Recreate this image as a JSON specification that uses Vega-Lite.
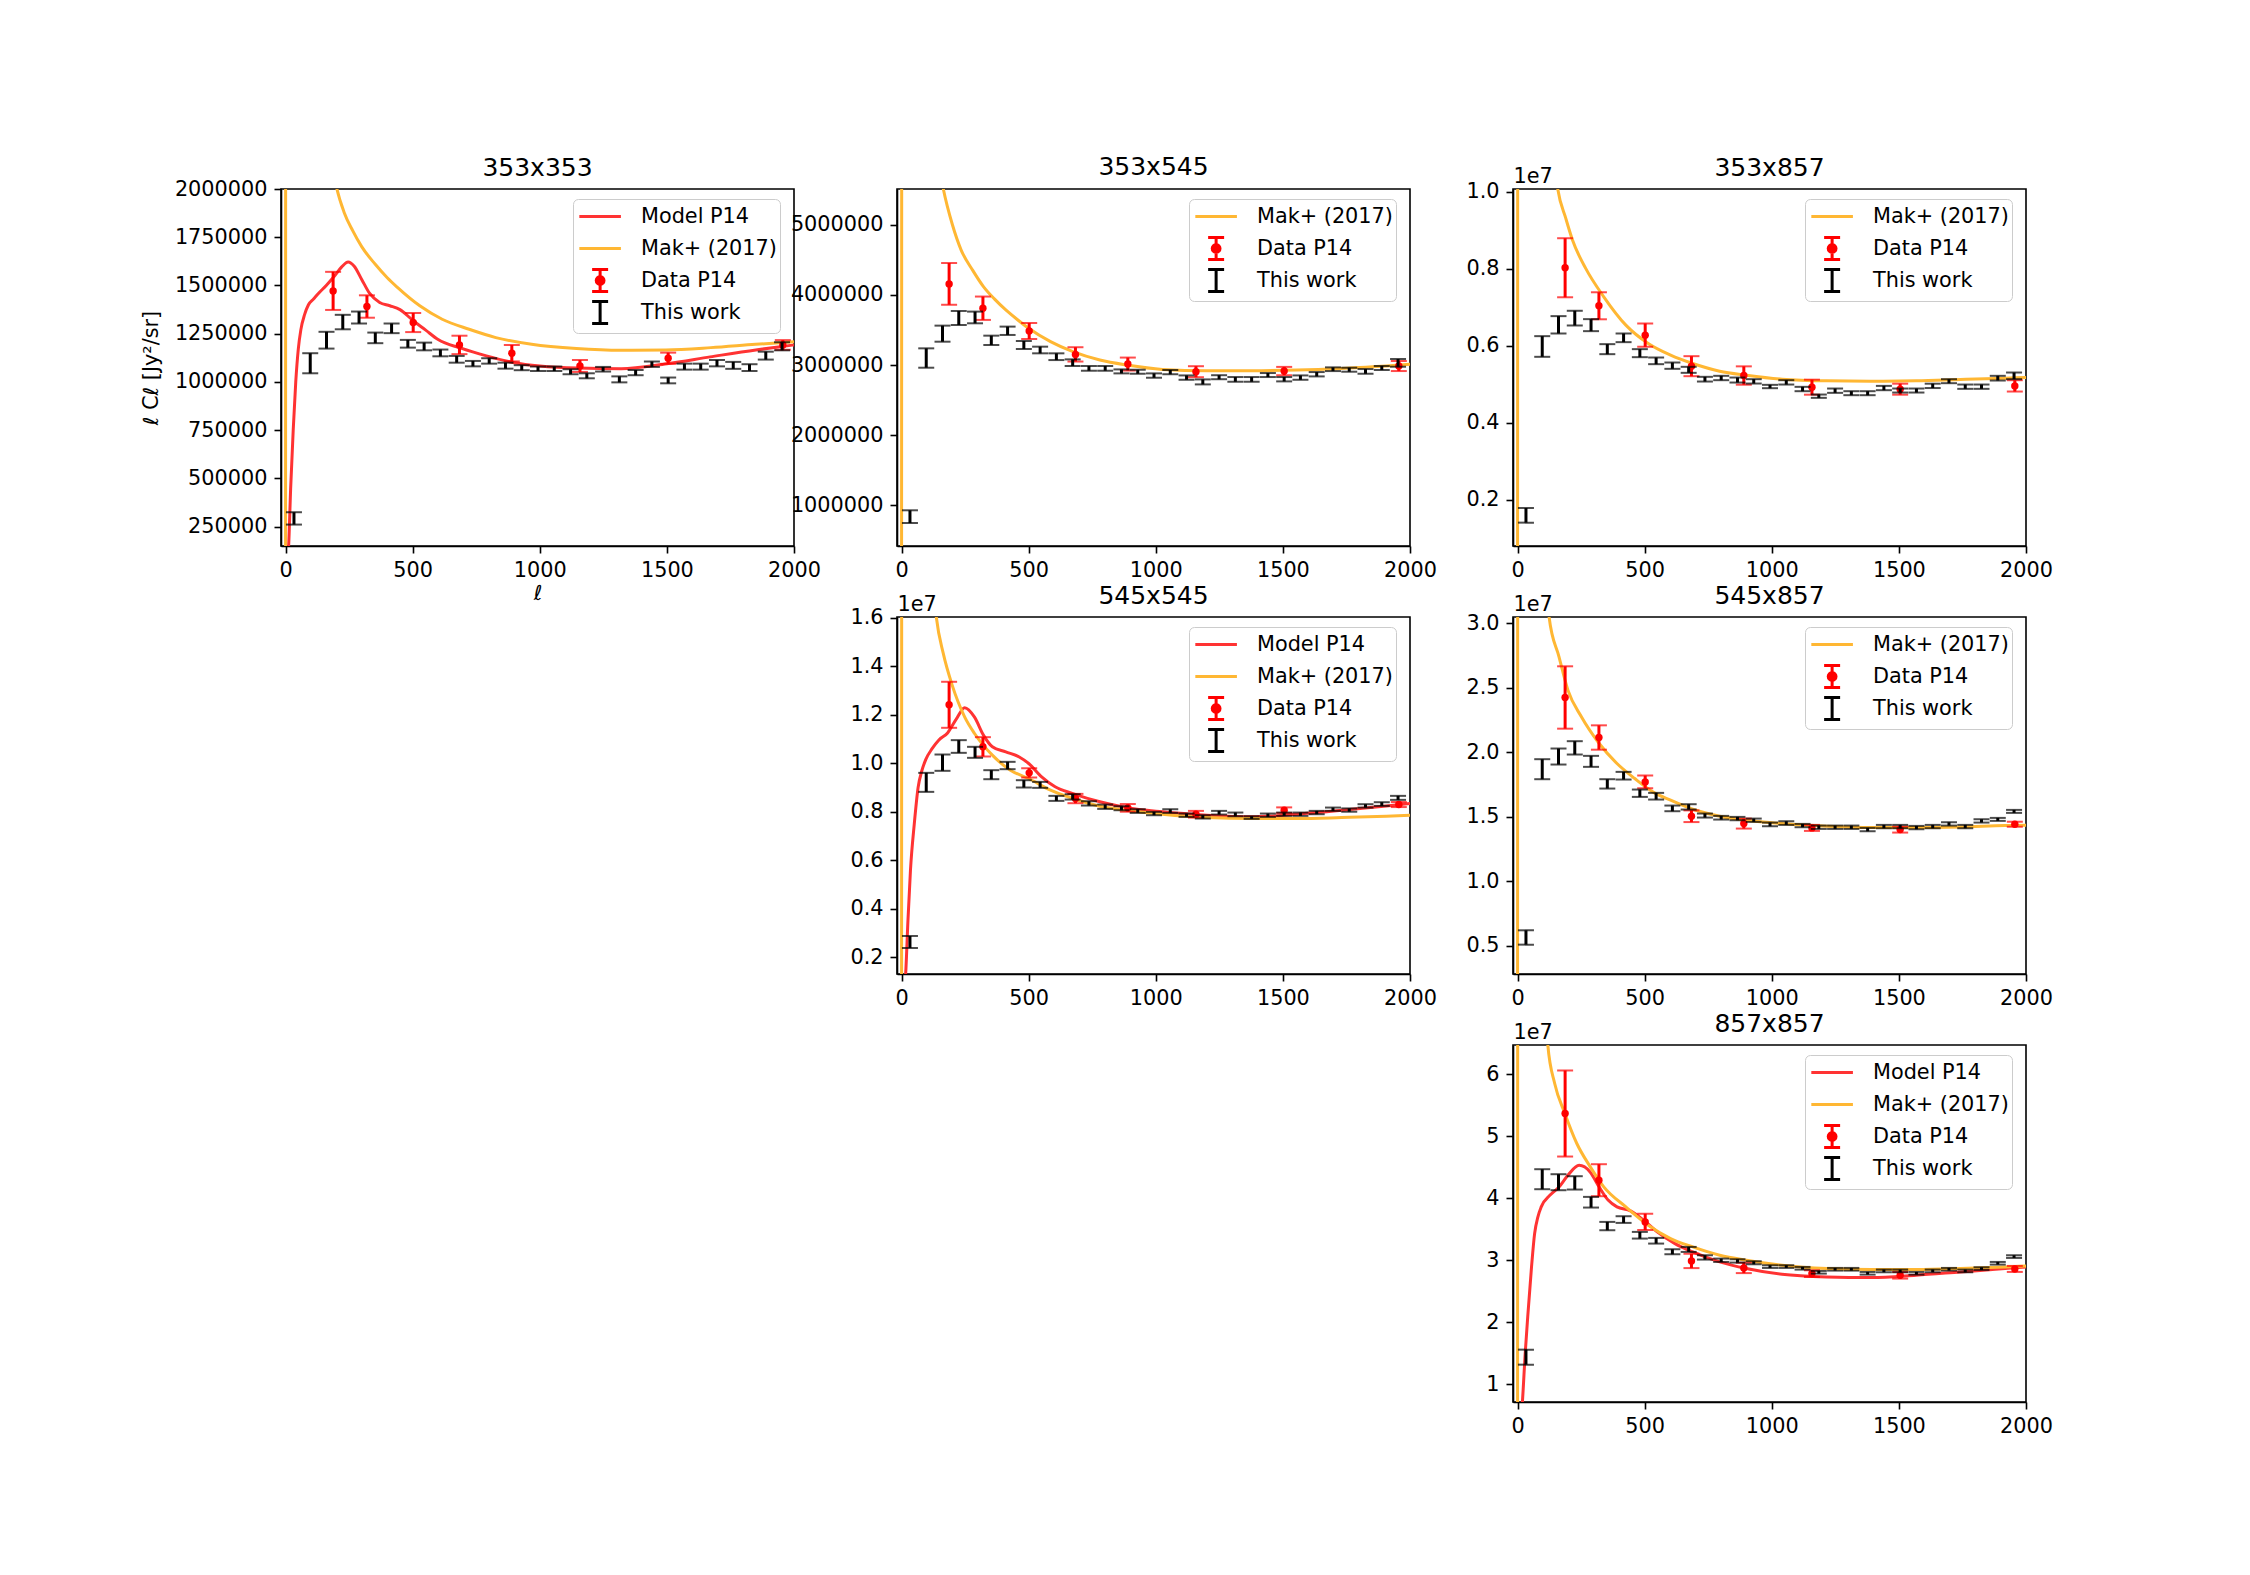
{
"$schema": "https://vega.github.io/schema/vega-lite/v6.json",
"autosize": {"type": "none"},
"padding": {"left": 281, "top": 189, "right": 1969, "bottom": 1386},
"background": "white",
"config": {
 "font": "DejaVu Sans",
 "view": {"stroke": "black", "strokeWidth": 1.6},
 "axis": {"domainColor": "black", "domainWidth": 1.6, "tickColor": "black", "tickWidth": 1.6, "tickSize": 7, "labelFont": "DejaVu Sans", "labelFontSize": 20.8, "labelColor": "black", "labelPadding": 7, "grid": false, "labelOverlap": false, "labelFlush": false, "labelBound": false, "titleFont": "DejaVu Sans", "titleFontSize": 20.8, "titleFontWeight": "normal", "titleColor": "black"},
 "title": {"font": "DejaVu Sans", "fontSize": 25, "fontWeight": "normal", "color": "black", "offset": 13, "baseline": "alphabetic", "frame": "group", "anchor": "middle"},
 "legend": {"orient": "none", "legendX": 292, "legendY": 10, "padding": 3, "strokeColor": "#cccccc", "fillColor": "rgba(255,255,255,0.8)", "cornerRadius": 5, "labelFont": "DejaVu Sans", "labelFontSize": 20.8, "labelColor": "black", "symbolSize": 676, "labelOffset": 36, "rowPadding": -5, "labelLimit": 300}
},
"datasets": {
 "curves": [
  {"panel":"353x353","series":"Model P14","ell":0,"v":0},{"panel":"353x353","series":"Model P14","ell":12,"v":150000},{"panel":"353x353","series":"Model P14","ell":20,"v":450000},{"panel":"353x353","series":"Model P14","ell":30,"v":750000},{"panel":"353x353","series":"Model P14","ell":40,"v":1000000},{"panel":"353x353","series":"Model P14","ell":50,"v":1170000},{"panel":"353x353","series":"Model P14","ell":60,"v":1270000},{"panel":"353x353","series":"Model P14","ell":75,"v":1350000},{"panel":"353x353","series":"Model P14","ell":90,"v":1400000},{"panel":"353x353","series":"Model P14","ell":110,"v":1430000},{"panel":"353x353","series":"Model P14","ell":130,"v":1460000},{"panel":"353x353","series":"Model P14","ell":160,"v":1500000},{"panel":"353x353","series":"Model P14","ell":190,"v":1545000},{"panel":"353x353","series":"Model P14","ell":220,"v":1595000},{"panel":"353x353","series":"Model P14","ell":246,"v":1622000},{"panel":"353x353","series":"Model P14","ell":270,"v":1600000},{"panel":"353x353","series":"Model P14","ell":300,"v":1530000},{"panel":"353x353","series":"Model P14","ell":330,"v":1460000},{"panel":"353x353","series":"Model P14","ell":370,"v":1412000},{"panel":"353x353","series":"Model P14","ell":410,"v":1395000},{"panel":"353x353","series":"Model P14","ell":450,"v":1375000},{"panel":"353x353","series":"Model P14","ell":500,"v":1320000},{"panel":"353x353","series":"Model P14","ell":550,"v":1270000},{"panel":"353x353","series":"Model P14","ell":600,"v":1220000},{"panel":"353x353","series":"Model P14","ell":690,"v":1175000},{"panel":"353x353","series":"Model P14","ell":790,"v":1135000},{"panel":"353x353","series":"Model P14","ell":900,"v":1100000},{"panel":"353x353","series":"Model P14","ell":1000,"v":1083000},{"panel":"353x353","series":"Model P14","ell":1150,"v":1072000},{"panel":"353x353","series":"Model P14","ell":1320,"v":1069000},{"panel":"353x353","series":"Model P14","ell":1500,"v":1095000},{"panel":"353x353","series":"Model P14","ell":1670,"v":1130000},{"panel":"353x353","series":"Model P14","ell":1850,"v":1166000},{"panel":"353x353","series":"Model P14","ell":2000,"v":1192000},
  {"panel":"353x353","series":"Mak+ (2017)","ell":0,"v":0},{"panel":"353x353","series":"Mak+ (2017)","ell":3,"v":30000000},{"panel":"353x353","series":"Mak+ (2017)","ell":50,"v":6000000},{"panel":"353x353","series":"Mak+ (2017)","ell":100,"v":3200000},{"panel":"353x353","series":"Mak+ (2017)","ell":150,"v":2450000},{"panel":"353x353","series":"Mak+ (2017)","ell":180,"v":2150000},{"panel":"353x353","series":"Mak+ (2017)","ell":202,"v":2000000},{"panel":"353x353","series":"Mak+ (2017)","ell":230,"v":1880000},{"panel":"353x353","series":"Mak+ (2017)","ell":264,"v":1784000},{"panel":"353x353","series":"Mak+ (2017)","ell":300,"v":1700000},{"panel":"353x353","series":"Mak+ (2017)","ell":352,"v":1611000},{"panel":"353x353","series":"Mak+ (2017)","ell":400,"v":1540000},{"panel":"353x353","series":"Mak+ (2017)","ell":440,"v":1490000},{"panel":"353x353","series":"Mak+ (2017)","ell":528,"v":1394500},{"panel":"353x353","series":"Mak+ (2017)","ell":616,"v":1325000},{"panel":"353x353","series":"Mak+ (2017)","ell":722,"v":1273000},{"panel":"353x353","series":"Mak+ (2017)","ell":827,"v":1230000},{"panel":"353x353","series":"Mak+ (2017)","ell":968,"v":1195000},{"panel":"353x353","series":"Mak+ (2017)","ell":1144,"v":1173000},{"panel":"353x353","series":"Mak+ (2017)","ell":1320,"v":1164000},{"panel":"353x353","series":"Mak+ (2017)","ell":1496,"v":1166000},{"panel":"353x353","series":"Mak+ (2017)","ell":1673,"v":1178000},{"panel":"353x353","series":"Mak+ (2017)","ell":1849,"v":1195000},{"panel":"353x353","series":"Mak+ (2017)","ell":2000,"v":1208000},
  {"panel":"353x545","series":"Mak+ (2017)","ell":0,"v":0},{"panel":"353x545","series":"Mak+ (2017)","ell":3,"v":40000000},{"panel":"353x545","series":"Mak+ (2017)","ell":50,"v":12000000},{"panel":"353x545","series":"Mak+ (2017)","ell":100,"v":7500000},{"panel":"353x545","series":"Mak+ (2017)","ell":140,"v":6000000},{"panel":"353x545","series":"Mak+ (2017)","ell":164,"v":5514000},{"panel":"353x545","series":"Mak+ (2017)","ell":200,"v":5000000},{"panel":"353x545","series":"Mak+ (2017)","ell":234,"v":4643000},{"panel":"353x545","series":"Mak+ (2017)","ell":280,"v":4350000},{"panel":"353x545","series":"Mak+ (2017)","ell":322,"v":4119000},{"panel":"353x545","series":"Mak+ (2017)","ell":366,"v":3940000},{"panel":"353x545","series":"Mak+ (2017)","ell":410,"v":3786000},{"panel":"353x545","series":"Mak+ (2017)","ell":455,"v":3650000},{"panel":"353x545","series":"Mak+ (2017)","ell":500,"v":3524000},{"panel":"353x545","series":"Mak+ (2017)","ell":586,"v":3333000},{"panel":"353x545","series":"Mak+ (2017)","ell":674,"v":3190000},{"panel":"353x545","series":"Mak+ (2017)","ell":780,"v":3071000},{"panel":"353x545","series":"Mak+ (2017)","ell":886,"v":3000000},{"panel":"353x545","series":"Mak+ (2017)","ell":1026,"v":2938000},{"panel":"353x545","series":"Mak+ (2017)","ell":1202,"v":2919000},{"panel":"353x545","series":"Mak+ (2017)","ell":1379,"v":2919000},{"panel":"353x545","series":"Mak+ (2017)","ell":1555,"v":2929000},{"panel":"353x545","series":"Mak+ (2017)","ell":1731,"v":2952000},{"panel":"353x545","series":"Mak+ (2017)","ell":1907,"v":2986000},{"panel":"353x545","series":"Mak+ (2017)","ell":2000,"v":3010000},
  {"panel":"353x857","series":"Mak+ (2017)","ell":0,"v":0},{"panel":"353x857","series":"Mak+ (2017)","ell":3,"v":80000000},{"panel":"353x857","series":"Mak+ (2017)","ell":50,"v":25000000},{"panel":"353x857","series":"Mak+ (2017)","ell":100,"v":14000000},{"panel":"353x857","series":"Mak+ (2017)","ell":140,"v":11000000},{"panel":"353x857","series":"Mak+ (2017)","ell":158,"v":10070000},{"panel":"353x857","series":"Mak+ (2017)","ell":190,"v":9300000},{"panel":"353x857","series":"Mak+ (2017)","ell":216,"v":8743000},{"panel":"353x857","series":"Mak+ (2017)","ell":268,"v":8007000},{"panel":"353x857","series":"Mak+ (2017)","ell":339,"v":7270000},{"panel":"353x857","series":"Mak+ (2017)","ell":426,"v":6533000},{"panel":"353x857","series":"Mak+ (2017)","ell":514,"v":6056000},{"panel":"353x857","series":"Mak+ (2017)","ell":602,"v":5753000},{"panel":"353x857","series":"Mak+ (2017)","ell":689,"v":5536000},{"panel":"353x857","series":"Mak+ (2017)","ell":795,"v":5337000},{"panel":"353x857","series":"Mak+ (2017)","ell":900,"v":5233000},{"panel":"353x857","series":"Mak+ (2017)","ell":1040,"v":5129000},{"panel":"353x857","series":"Mak+ (2017)","ell":1216,"v":5086000},{"panel":"353x857","series":"Mak+ (2017)","ell":1391,"v":5077000},{"panel":"353x857","series":"Mak+ (2017)","ell":1567,"v":5086000},{"panel":"353x857","series":"Mak+ (2017)","ell":1742,"v":5120000},{"panel":"353x857","series":"Mak+ (2017)","ell":1918,"v":5155000},{"panel":"353x857","series":"Mak+ (2017)","ell":2000,"v":5172000},
  {"panel":"545x545","series":"Model P14","ell":0,"v":0},{"panel":"545x545","series":"Model P14","ell":16,"v":1310000},{"panel":"545x545","series":"Model P14","ell":25,"v":3500000},{"panel":"545x545","series":"Model P14","ell":35,"v":5600000},{"panel":"545x545","series":"Model P14","ell":50,"v":7500000},{"panel":"545x545","series":"Model P14","ell":65,"v":9000000},{"panel":"545x545","series":"Model P14","ell":80,"v":9700000},{"panel":"545x545","series":"Model P14","ell":95,"v":10150000},{"panel":"545x545","series":"Model P14","ell":120,"v":10600000},{"panel":"545x545","series":"Model P14","ell":146,"v":10950000},{"panel":"545x545","series":"Model P14","ell":181,"v":11250000},{"panel":"545x545","series":"Model P14","ell":217,"v":11850000},{"panel":"545x545","series":"Model P14","ell":248,"v":12290000},{"panel":"545x545","series":"Model P14","ell":287,"v":11900000},{"panel":"545x545","series":"Model P14","ell":322,"v":11160000},{"panel":"545x545","series":"Model P14","ell":357,"v":10680000},{"panel":"545x545","series":"Model P14","ell":410,"v":10470000},{"panel":"545x545","series":"Model P14","ell":463,"v":10260000},{"panel":"545x545","series":"Model P14","ell":500,"v":9990000},{"panel":"545x545","series":"Model P14","ell":551,"v":9440000},{"panel":"545x545","series":"Model P14","ell":604,"v":9030000},{"panel":"545x545","series":"Model P14","ell":674,"v":8750000},{"panel":"545x545","series":"Model P14","ell":780,"v":8410000},{"panel":"545x545","series":"Model P14","ell":886,"v":8170000},{"panel":"545x545","series":"Model P14","ell":1026,"v":8000000},{"panel":"545x545","series":"Model P14","ell":1202,"v":7860000},{"panel":"545x545","series":"Model P14","ell":1379,"v":7790000},{"panel":"545x545","series":"Model P14","ell":1555,"v":7900000},{"panel":"545x545","series":"Model P14","ell":1731,"v":8060000},{"panel":"545x545","series":"Model P14","ell":1907,"v":8240000},{"panel":"545x545","series":"Model P14","ell":2000,"v":8340000},
  {"panel":"545x545","series":"Mak+ (2017)","ell":0,"v":0},{"panel":"545x545","series":"Mak+ (2017)","ell":3,"v":150000000},{"panel":"545x545","series":"Mak+ (2017)","ell":50,"v":40000000},{"panel":"545x545","series":"Mak+ (2017)","ell":100,"v":21000000},{"panel":"545x545","series":"Mak+ (2017)","ell":137,"v":16000000},{"panel":"545x545","series":"Mak+ (2017)","ell":164,"v":14528000},{"panel":"545x545","series":"Mak+ (2017)","ell":199,"v":13222000},{"panel":"545x545","series":"Mak+ (2017)","ell":248,"v":11915000},{"panel":"545x545","series":"Mak+ (2017)","ell":287,"v":11227000},{"panel":"545x545","series":"Mak+ (2017)","ell":357,"v":10333000},{"panel":"545x545","series":"Mak+ (2017)","ell":428,"v":9714000},{"panel":"545x545","series":"Mak+ (2017)","ell":500,"v":9370000},{"panel":"545x545","series":"Mak+ (2017)","ell":586,"v":8889000},{"panel":"545x545","series":"Mak+ (2017)","ell":674,"v":8545000},{"panel":"545x545","series":"Mak+ (2017)","ell":780,"v":8228000},{"panel":"545x545","series":"Mak+ (2017)","ell":886,"v":8063000},{"panel":"545x545","series":"Mak+ (2017)","ell":1026,"v":7898000},{"panel":"545x545","series":"Mak+ (2017)","ell":1202,"v":7761000},{"panel":"545x545","series":"Mak+ (2017)","ell":1379,"v":7720000},{"panel":"545x545","series":"Mak+ (2017)","ell":1555,"v":7720000},{"panel":"545x545","series":"Mak+ (2017)","ell":1731,"v":7761000},{"panel":"545x545","series":"Mak+ (2017)","ell":1907,"v":7816000},{"panel":"545x545","series":"Mak+ (2017)","ell":2000,"v":7857000},
  {"panel":"545x857","series":"Mak+ (2017)","ell":0,"v":0},{"panel":"545x857","series":"Mak+ (2017)","ell":3,"v":300000000},{"panel":"545x857","series":"Mak+ (2017)","ell":50,"v":80000000},{"panel":"545x857","series":"Mak+ (2017)","ell":100,"v":40000000},{"panel":"545x857","series":"Mak+ (2017)","ell":124,"v":30500000},{"panel":"545x857","series":"Mak+ (2017)","ell":163,"v":27412000},{"panel":"545x857","series":"Mak+ (2017)","ell":198,"v":24824000},{"panel":"545x857","series":"Mak+ (2017)","ell":251,"v":22754000},{"panel":"545x857","series":"Mak+ (2017)","ell":321,"v":20683000},{"panel":"545x857","series":"Mak+ (2017)","ell":391,"v":19130000},{"panel":"545x857","series":"Mak+ (2017)","ell":461,"v":17966000},{"panel":"545x857","series":"Mak+ (2017)","ell":532,"v":16931000},{"panel":"545x857","series":"Mak+ (2017)","ell":602,"v":16284000},{"panel":"545x857","series":"Mak+ (2017)","ell":689,"v":15585000},{"panel":"545x857","series":"Mak+ (2017)","ell":795,"v":15042000},{"panel":"545x857","series":"Mak+ (2017)","ell":900,"v":14731000},{"panel":"545x857","series":"Mak+ (2017)","ell":1040,"v":14472000},{"panel":"545x857","series":"Mak+ (2017)","ell":1216,"v":14265000},{"panel":"545x857","series":"Mak+ (2017)","ell":1391,"v":14162000},{"panel":"545x857","series":"Mak+ (2017)","ell":1567,"v":14162000},{"panel":"545x857","series":"Mak+ (2017)","ell":1742,"v":14213000},{"panel":"545x857","series":"Mak+ (2017)","ell":1918,"v":14317000},{"panel":"545x857","series":"Mak+ (2017)","ell":2000,"v":14343000},
  {"panel":"857x857","series":"Model P14","ell":0,"v":0},{"panel":"857x857","series":"Model P14","ell":19,"v":7150000},{"panel":"857x857","series":"Model P14","ell":30,"v":15000000},{"panel":"857x857","series":"Model P14","ell":40,"v":20900000},{"panel":"857x857","series":"Model P14","ell":55,"v":29000000},{"panel":"857x857","series":"Model P14","ell":67,"v":34300000},{"panel":"857x857","series":"Model P14","ell":80,"v":37000000},{"panel":"857x857","series":"Model P14","ell":93,"v":38600000},{"panel":"857x857","series":"Model P14","ell":128,"v":40500000},{"panel":"857x857","series":"Model P14","ell":163,"v":41800000},{"panel":"857x857","series":"Model P14","ell":198,"v":43700000},{"panel":"857x857","series":"Model P14","ell":242,"v":45300000},{"panel":"857x857","series":"Model P14","ell":286,"v":44200000},{"panel":"857x857","series":"Model P14","ell":321,"v":41800000},{"panel":"857x857","series":"Model P14","ell":356,"v":39700000},{"panel":"857x857","series":"Model P14","ell":391,"v":38600000},{"panel":"857x857","series":"Model P14","ell":444,"v":37960000},{"panel":"857x857","series":"Model P14","ell":496,"v":36450000},{"panel":"857x857","series":"Model P14","ell":549,"v":34570000},{"panel":"857x857","series":"Model P14","ell":619,"v":32690000},{"panel":"857x857","series":"Model P14","ell":689,"v":31340000},{"panel":"857x857","series":"Model P14","ell":795,"v":29730000},{"panel":"857x857","series":"Model P14","ell":900,"v":28660000},{"panel":"857x857","series":"Model P14","ell":1040,"v":27740000},{"panel":"857x857","series":"Model P14","ell":1216,"v":27310000},{"panel":"857x857","series":"Model P14","ell":1391,"v":27200000},{"panel":"857x857","series":"Model P14","ell":1567,"v":27580000},{"panel":"857x857","series":"Model P14","ell":1742,"v":28120000},{"panel":"857x857","series":"Model P14","ell":1918,"v":28660000},{"panel":"857x857","series":"Model P14","ell":2000,"v":28900000},
  {"panel":"857x857","series":"Mak+ (2017)","ell":0,"v":0},{"panel":"857x857","series":"Mak+ (2017)","ell":3,"v":600000000},{"panel":"857x857","series":"Mak+ (2017)","ell":50,"v":150000000},{"panel":"857x857","series":"Mak+ (2017)","ell":100,"v":80000000},{"panel":"857x857","series":"Mak+ (2017)","ell":119,"v":64700000},{"panel":"857x857","series":"Mak+ (2017)","ell":146,"v":58500000},{"panel":"857x857","series":"Mak+ (2017)","ell":186,"v":53660000},{"panel":"857x857","series":"Mak+ (2017)","ell":233,"v":48820000},{"panel":"857x857","series":"Mak+ (2017)","ell":286,"v":45050000},{"panel":"857x857","series":"Mak+ (2017)","ell":339,"v":41830000},{"panel":"857x857","series":"Mak+ (2017)","ell":426,"v":38600000},{"panel":"857x857","series":"Mak+ (2017)","ell":514,"v":35650000},{"panel":"857x857","series":"Mak+ (2017)","ell":602,"v":33500000},{"panel":"857x857","series":"Mak+ (2017)","ell":689,"v":32150000},{"panel":"857x857","series":"Mak+ (2017)","ell":795,"v":30810000},{"panel":"857x857","series":"Mak+ (2017)","ell":900,"v":30000000},{"panel":"857x857","series":"Mak+ (2017)","ell":1040,"v":29190000},{"panel":"857x857","series":"Mak+ (2017)","ell":1216,"v":28660000},{"panel":"857x857","series":"Mak+ (2017)","ell":1391,"v":28500000},{"panel":"857x857","series":"Mak+ (2017)","ell":1567,"v":28500000},{"panel":"857x857","series":"Mak+ (2017)","ell":1742,"v":28660000},{"panel":"857x857","series":"Mak+ (2017)","ell":1918,"v":28930000},{"panel":"857x857","series":"Mak+ (2017)","ell":2000,"v":29090000}
 ],
 "p14": [
  {"panel":"353x353","series":"Data P14","ell":187,"v":1472000,"err":98700},{"panel":"353x353","series":"Data P14","ell":320,"v":1391000,"err":58000},{"panel":"353x353","series":"Data P14","ell":502,"v":1308000,"err":49500},{"panel":"353x353","series":"Data P14","ell":684,"v":1192000,"err":47700},{"panel":"353x353","series":"Data P14","ell":890,"v":1149000,"err":42500},{"panel":"353x353","series":"Data P14","ell":1158,"v":1083000,"err":31000},{"panel":"353x353","series":"Data P14","ell":1505,"v":1123000,"err":29000},{"panel":"353x353","series":"Data P14","ell":1956,"v":1192000,"err":25000},
  {"panel":"353x545","series":"Data P14","ell":187,"v":4157000,"err":297500},{"panel":"353x545","series":"Data P14","ell":320,"v":3810000,"err":166500},{"panel":"353x545","series":"Data P14","ell":502,"v":3486000,"err":114000},{"panel":"353x545","series":"Data P14","ell":684,"v":3152000,"err":102000},{"panel":"353x545","series":"Data P14","ell":890,"v":3014000,"err":92500},{"panel":"353x545","series":"Data P14","ell":1158,"v":2905000,"err":78500},{"panel":"353x545","series":"Data P14","ell":1505,"v":2914000,"err":59500},{"panel":"353x545","series":"Data P14","ell":1956,"v":2986000,"err":71500},
  {"panel":"353x857","series":"Data P14","ell":187,"v":8024000,"err":767000},{"panel":"353x857","series":"Data P14","ell":320,"v":7036000,"err":351000},{"panel":"353x857","series":"Data P14","ell":502,"v":6273000,"err":303500},{"panel":"353x857","series":"Data P14","ell":684,"v":5467000,"err":260000},{"panel":"353x857","series":"Data P14","ell":890,"v":5224000,"err":238500},{"panel":"353x857","series":"Data P14","ell":1158,"v":4921000,"err":195000},{"panel":"353x857","series":"Data P14","ell":1505,"v":4869000,"err":143000},{"panel":"353x857","series":"Data P14","ell":1956,"v":4955000,"err":147000},
  {"panel":"545x545","series":"Data P14","ell":187,"v":12410000,"err":949000},{"panel":"545x545","series":"Data P14","ell":320,"v":10677000,"err":398500},{"panel":"545x545","series":"Data P14","ell":502,"v":9604000,"err":192500},{"panel":"545x545","series":"Data P14","ell":684,"v":8545000,"err":192500},{"panel":"545x545","series":"Data P14","ell":890,"v":8160000,"err":158000},{"panel":"545x545","series":"Data P14","ell":1158,"v":7898000,"err":137500},{"panel":"545x545","series":"Data P14","ell":1505,"v":8063000,"err":117000},{"panel":"545x545","series":"Data P14","ell":1956,"v":8297000,"err":103500},
  {"panel":"545x857","series":"Data P14","ell":187,"v":24255000,"err":2419500},{"panel":"545x857","series":"Data P14","ell":320,"v":21149000,"err":945000},{"panel":"545x857","series":"Data P14","ell":502,"v":17707000,"err":492000},{"panel":"545x857","series":"Data P14","ell":684,"v":15041000,"err":453000},{"panel":"545x857","series":"Data P14","ell":890,"v":14472000,"err":388000},{"panel":"545x857","series":"Data P14","ell":1158,"v":14136000,"err":233000},{"panel":"545x857","series":"Data P14","ell":1505,"v":14006000,"err":233000},{"panel":"545x857","series":"Data P14","ell":1956,"v":14420000,"err":194000},
  {"panel":"857x857","series":"Data P14","ell":187,"v":53656000,"err":6935500},{"panel":"857x857","series":"Data P14","ell":320,"v":42903000,"err":2580500},{"panel":"857x857","series":"Data P14","ell":502,"v":36183000,"err":1317000},{"panel":"857x857","series":"Data P14","ell":684,"v":29892000,"err":1156000},{"panel":"857x857","series":"Data P14","ell":890,"v":28763000,"err":833500},{"panel":"857x857","series":"Data P14","ell":1158,"v":27849000,"err":537500},{"panel":"857x857","series":"Data P14","ell":1505,"v":27581000,"err":537500},{"panel":"857x857","series":"Data P14","ell":1956,"v":28602000,"err":484000}
 ],
 "work": [
  {"panel":"353x353","series":"This work","ell":33,"v":293000,"err":32000},{"panel":"353x353","series":"This work","ell":97,"v":1097000,"err":52000},{"panel":"353x353","series":"This work","ell":161,"v":1216500,"err":43500},{"panel":"353x353","series":"This work","ell":225,"v":1310500,"err":37500},{"panel":"353x353","series":"This work","ell":289,"v":1334000,"err":31000},{"panel":"353x353","series":"This work","ell":353,"v":1228500,"err":27500},{"panel":"353x353","series":"This work","ell":417,"v":1278000,"err":25000},{"panel":"353x353","series":"This work","ell":481,"v":1198000,"err":20000},{"panel":"353x353","series":"This work","ell":545,"v":1184000,"err":20000},{"panel":"353x353","series":"This work","ell":609,"v":1150500,"err":17500},{"panel":"353x353","series":"This work","ell":673,"v":1117500,"err":17500},{"panel":"353x353","series":"This work","ell":737,"v":1095000,"err":14000},{"panel":"353x353","series":"This work","ell":801,"v":1109000,"err":14000},{"panel":"353x353","series":"This work","ell":865,"v":1084500,"err":15500},{"panel":"353x353","series":"This work","ell":929,"v":1074000,"err":13000},{"panel":"353x353","series":"This work","ell":993,"v":1068500,"err":11500},{"panel":"353x353","series":"This work","ell":1057,"v":1068500,"err":11500},{"panel":"353x353","series":"This work","ell":1121,"v":1053000,"err":13000},{"panel":"353x353","series":"This work","ell":1185,"v":1032000,"err":13000},{"panel":"353x353","series":"This work","ell":1249,"v":1066000,"err":12000},{"panel":"353x353","series":"This work","ell":1313,"v":1013500,"err":15500},{"panel":"353x353","series":"This work","ell":1377,"v":1048500,"err":13500},{"panel":"353x353","series":"This work","ell":1441,"v":1092000,"err":14000},{"panel":"353x353","series":"This work","ell":1505,"v":1008000,"err":15000},{"panel":"353x353","series":"This work","ell":1569,"v":1079500,"err":15500},{"panel":"353x353","series":"This work","ell":1633,"v":1079500,"err":15500},{"panel":"353x353","series":"This work","ell":1697,"v":1097500,"err":16500},{"panel":"353x353","series":"This work","ell":1761,"v":1086000,"err":18000},{"panel":"353x353","series":"This work","ell":1825,"v":1074500,"err":17500},{"panel":"353x353","series":"This work","ell":1889,"v":1136500,"err":20500},{"panel":"353x353","series":"This work","ell":1953,"v":1185000,"err":21000},
  {"panel":"353x545","series":"This work","ell":33,"v":838500,"err":90500},{"panel":"353x545","series":"This work","ell":97,"v":3100000,"err":138000},{"panel":"353x545","series":"This work","ell":161,"v":3447500,"err":114500},{"panel":"353x545","series":"This work","ell":225,"v":3671000,"err":100000},{"panel":"353x545","series":"This work","ell":289,"v":3678500,"err":83500},{"panel":"353x545","series":"This work","ell":353,"v":3352500,"err":66500},{"panel":"353x545","series":"This work","ell":417,"v":3488500,"err":59500},{"panel":"353x545","series":"This work","ell":481,"v":3286000,"err":57000},{"panel":"353x545","series":"This work","ell":545,"v":3214500,"err":47500},{"panel":"353x545","series":"This work","ell":609,"v":3119000,"err":48000},{"panel":"353x545","series":"This work","ell":673,"v":3033500,"err":47500},{"panel":"353x545","series":"This work","ell":737,"v":2952500,"err":33500},{"panel":"353x545","series":"This work","ell":801,"v":2952500,"err":33500},{"panel":"353x545","series":"This work","ell":865,"v":2909500,"err":28500},{"panel":"353x545","series":"This work","ell":929,"v":2904500,"err":28500},{"panel":"353x545","series":"This work","ell":993,"v":2850000,"err":31000},{"panel":"353x545","series":"This work","ell":1057,"v":2899000,"err":30000},{"panel":"353x545","series":"This work","ell":1121,"v":2821000,"err":31000},{"panel":"353x545","series":"This work","ell":1185,"v":2759500,"err":35500},{"panel":"353x545","series":"This work","ell":1249,"v":2826500,"err":28500},{"panel":"353x545","series":"This work","ell":1313,"v":2795500,"err":33500},{"panel":"353x545","series":"This work","ell":1377,"v":2795500,"err":33500},{"panel":"353x545","series":"This work","ell":1441,"v":2857500,"err":28500},{"panel":"353x545","series":"This work","ell":1505,"v":2798000,"err":31000},{"panel":"353x545","series":"This work","ell":1569,"v":2821000,"err":31000},{"panel":"353x545","series":"This work","ell":1633,"v":2869000,"err":31000},{"panel":"353x545","series":"This work","ell":1697,"v":2940500,"err":26500},{"panel":"353x545","series":"This work","ell":1761,"v":2933500,"err":28500},{"panel":"353x545","series":"This work","ell":1825,"v":2909500,"err":33500},{"panel":"353x545","series":"This work","ell":1889,"v":2957500,"err":28500},{"panel":"353x545","series":"This work","ell":1953,"v":3031000,"err":55000},
  {"panel":"353x857","series":"This work","ell":33,"v":1592500,"err":190500},{"panel":"353x857","series":"This work","ell":97,"v":5978500,"err":268500},{"panel":"353x857","series":"This work","ell":161,"v":6541500,"err":225500},{"panel":"353x857","series":"This work","ell":225,"v":6715000,"err":191000},{"panel":"353x857","series":"This work","ell":289,"v":6533000,"err":156000},{"panel":"353x857","series":"This work","ell":353,"v":5909000,"err":130000},{"panel":"353x857","series":"This work","ell":417,"v":6203500,"err":112500},{"panel":"353x857","series":"This work","ell":481,"v":5805000,"err":104000},{"panel":"353x857","series":"This work","ell":545,"v":5605500,"err":86500},{"panel":"353x857","series":"This work","ell":609,"v":5480000,"err":82000},{"panel":"353x857","series":"This work","ell":673,"v":5372000,"err":78000},{"panel":"353x857","series":"This work","ell":737,"v":5129000,"err":61000},{"panel":"353x857","series":"This work","ell":801,"v":5159500,"err":56500},{"panel":"353x857","series":"This work","ell":865,"v":5107000,"err":65000},{"panel":"353x857","series":"This work","ell":929,"v":5072500,"err":56500},{"panel":"353x857","series":"This work","ell":993,"v":4938500,"err":43500},{"panel":"353x857","series":"This work","ell":1057,"v":5046500,"err":56500},{"panel":"353x857","series":"This work","ell":1121,"v":4873500,"err":56500},{"panel":"353x857","series":"This work","ell":1185,"v":4687000,"err":43000},{"panel":"353x857","series":"This work","ell":1249,"v":4830000,"err":56000},{"panel":"353x857","series":"This work","ell":1313,"v":4765000,"err":52000},{"panel":"353x857","series":"This work","ell":1377,"v":4765000,"err":52000},{"panel":"353x857","series":"This work","ell":1441,"v":4899000,"err":56000},{"panel":"353x857","series":"This work","ell":1505,"v":4834000,"err":52000},{"panel":"353x857","series":"This work","ell":1569,"v":4834000,"err":52000},{"panel":"353x857","series":"This work","ell":1633,"v":4955500,"err":56500},{"panel":"353x857","series":"This work","ell":1697,"v":5077000,"err":52000},{"panel":"353x857","series":"This work","ell":1761,"v":4934000,"err":56000},{"panel":"353x857","series":"This work","ell":1825,"v":4934000,"err":56000},{"panel":"353x857","series":"This work","ell":1889,"v":5155000,"err":61000},{"panel":"353x857","series":"This work","ell":1953,"v":5215500,"err":86500},
  {"panel":"545x545","series":"This work","ell":33,"v":2630500,"err":247500},{"panel":"545x545","series":"This work","ell":97,"v":9212000,"err":392000},{"panel":"545x545","series":"This work","ell":161,"v":10023500,"err":336500},{"panel":"545x545","series":"This work","ell":225,"v":10690500,"err":261500},{"panel":"545x545","series":"This work","ell":289,"v":10450000,"err":227000},{"panel":"545x545","series":"This work","ell":353,"v":9528000,"err":186000},{"panel":"545x545","series":"This work","ell":417,"v":9906500,"err":151500},{"panel":"545x545","series":"This work","ell":481,"v":9150000,"err":151000},{"panel":"545x545","series":"This work","ell":545,"v":9108500,"err":123500},{"panel":"545x545","series":"This work","ell":609,"v":8551500,"err":103500},{"panel":"545x545","series":"This work","ell":673,"v":8613500,"err":110500},{"panel":"545x545","series":"This work","ell":737,"v":8345500,"err":89500},{"panel":"545x545","series":"This work","ell":801,"v":8207500,"err":89500},{"panel":"545x545","series":"This work","ell":865,"v":8145500,"err":82500},{"panel":"545x545","series":"This work","ell":929,"v":8028500,"err":75500},{"panel":"545x545","series":"This work","ell":993,"v":7926000,"err":69000},{"panel":"545x545","series":"This work","ell":1057,"v":8028500,"err":75500},{"panel":"545x545","series":"This work","ell":1121,"v":7857000,"err":69000},{"panel":"545x545","series":"This work","ell":1185,"v":7788500,"err":68500},{"panel":"545x545","series":"This work","ell":1249,"v":7960500,"err":75500},{"panel":"545x545","series":"This work","ell":1313,"v":7891500,"err":75500},{"panel":"545x545","series":"This work","ell":1377,"v":7761000,"err":55000},{"panel":"545x545","series":"This work","ell":1441,"v":7857000,"err":69000},{"panel":"545x545","series":"This work","ell":1505,"v":7898500,"err":68500},{"panel":"545x545","series":"This work","ell":1569,"v":7898500,"err":68500},{"panel":"545x545","series":"This work","ell":1633,"v":7967000,"err":69000},{"panel":"545x545","series":"This work","ell":1697,"v":8104500,"err":68500},{"panel":"545x545","series":"This work","ell":1761,"v":8069500,"err":68500},{"panel":"545x545","series":"This work","ell":1825,"v":8242000,"err":69000},{"panel":"545x545","series":"This work","ell":1889,"v":8317500,"err":75500},{"panel":"545x545","series":"This work","ell":1953,"v":8572500,"err":82500},
  {"panel":"545x857","series":"This work","ell":33,"v":5634000,"err":556000},{"panel":"545x857","series":"This work","ell":97,"v":18690500,"err":776500},{"panel":"545x857","series":"This work","ell":161,"v":19674000,"err":621000},{"panel":"545x857","series":"This work","ell":225,"v":20346500,"err":517500},{"panel":"545x857","series":"This work","ell":289,"v":19299000,"err":427000},{"panel":"545x857","series":"This work","ell":353,"v":17551500,"err":362500},{"panel":"545x857","series":"This work","ell":417,"v":18185500,"err":297500},{"panel":"545x857","series":"This work","ell":481,"v":16827000,"err":285000},{"panel":"545x857","series":"This work","ell":545,"v":16594000,"err":259000},{"panel":"545x857","series":"This work","ell":609,"v":15650000,"err":220000},{"panel":"545x857","series":"This work","ell":673,"v":15767000,"err":207000},{"panel":"545x857","series":"This work","ell":737,"v":15094000,"err":156000},{"panel":"545x857","series":"This work","ell":801,"v":14925500,"err":142500},{"panel":"545x857","series":"This work","ell":865,"v":14860500,"err":129500},{"panel":"545x857","series":"This work","ell":929,"v":14730500,"err":129500},{"panel":"545x857","series":"This work","ell":993,"v":14407000,"err":142000},{"panel":"545x857","series":"This work","ell":1057,"v":14510500,"err":142500},{"panel":"545x857","series":"This work","ell":1121,"v":14317000,"err":129000},{"panel":"545x857","series":"This work","ell":1185,"v":14187500,"err":129500},{"panel":"545x857","series":"This work","ell":1249,"v":14187500,"err":129500},{"panel":"545x857","series":"This work","ell":1313,"v":14187500,"err":129500},{"panel":"545x857","series":"This work","ell":1377,"v":14006500,"err":129500},{"panel":"545x857","series":"This work","ell":1441,"v":14239500,"err":129500},{"panel":"545x857","series":"This work","ell":1505,"v":14239500,"err":129500},{"panel":"545x857","series":"This work","ell":1569,"v":14161500,"err":129500},{"panel":"545x857","series":"This work","ell":1633,"v":14239500,"err":129500},{"panel":"545x857","series":"This work","ell":1697,"v":14446500,"err":129500},{"panel":"545x857","series":"This work","ell":1761,"v":14239500,"err":129500},{"panel":"545x857","series":"This work","ell":1825,"v":14679000,"err":129000},{"panel":"545x857","series":"This work","ell":1889,"v":14796000,"err":116000},{"panel":"545x857","series":"This work","ell":1953,"v":15416500,"err":116500},
  {"panel":"857x857","series":"This work","ell":33,"v":14381500,"err":1209500},{"panel":"857x857","series":"This work","ell":97,"v":43064500,"err":1612500},{"panel":"857x857","series":"This work","ell":161,"v":42580500,"err":1290500},{"panel":"857x857","series":"This work","ell":225,"v":42473000,"err":1075000},{"panel":"857x857","series":"This work","ell":289,"v":39355000,"err":860000},{"panel":"857x857","series":"This work","ell":353,"v":35511000,"err":672000},{"panel":"857x857","series":"This work","ell":417,"v":36559500,"err":537500},{"panel":"857x857","series":"This work","ell":481,"v":34032500,"err":537500},{"panel":"857x857","series":"This work","ell":545,"v":33145000,"err":457000},{"panel":"857x857","series":"This work","ell":609,"v":31371000,"err":403000},{"panel":"857x857","series":"This work","ell":673,"v":31747000,"err":403000},{"panel":"857x857","series":"This work","ell":737,"v":30456500,"err":349500},{"panel":"857x857","series":"This work","ell":801,"v":30000000,"err":269000},{"panel":"857x857","series":"This work","ell":865,"v":29892500,"err":268500},{"panel":"857x857","series":"This work","ell":929,"v":29597000,"err":242000},{"panel":"857x857","series":"This work","ell":993,"v":28978500,"err":215500},{"panel":"857x857","series":"This work","ell":1057,"v":28978500,"err":215500},{"panel":"857x857","series":"This work","ell":1121,"v":28710000,"err":215000},{"panel":"857x857","series":"This work","ell":1185,"v":28065000,"err":215000},{"panel":"857x857","series":"This work","ell":1249,"v":28548000,"err":215000},{"panel":"857x857","series":"This work","ell":1313,"v":28548000,"err":215000},{"panel":"857x857","series":"This work","ell":1377,"v":27903000,"err":215000},{"panel":"857x857","series":"This work","ell":1441,"v":28280000,"err":215000},{"panel":"857x857","series":"This work","ell":1505,"v":28280000,"err":215000},{"panel":"857x857","series":"This work","ell":1569,"v":27903000,"err":215000},{"panel":"857x857","series":"This work","ell":1633,"v":28280000,"err":215000},{"panel":"857x857","series":"This work","ell":1697,"v":28548000,"err":215000},{"panel":"857x857","series":"This work","ell":1761,"v":28280000,"err":215000},{"panel":"857x857","series":"This work","ell":1825,"v":28656000,"err":215000},{"panel":"857x857","series":"This work","ell":1889,"v":29516500,"err":214500},{"panel":"857x857","series":"This work","ell":1953,"v":30591000,"err":215000}
 ]
},
"columns": 3,
"bounds": "flush",
"spacing": {"row": 71, "column": 103},
"resolve": {"scale": {"color": "independent"}, "legend": {"color": "independent"}},
"concat": [
 {
  "title": {"text": "353x353", "dy": 16}, "width": 513, "height": 357,
  "encoding": {
   "x": {"field": "ell", "type": "quantitative", "scale": {"domain": [-18, 2000], "nice": false, "zero": false}, "axis": {"values": [0,500,1000,1500,2000], "format": "d", "title": "ℓ", "titleFontStyle": "italic", "titlePadding": 4}},
   "y": {"field": "v", "type": "quantitative", "scale": {"domain": [150000, 2000000], "nice": false, "zero": false}, "axis": {"values": [250000,500000,750000,1000000,1250000,1500000,1750000,2000000], "format": "d", "title": "ℓ Cℓ [Jy²/sr]", "titlePadding": 13}},
   "color": {"field": "series", "type": "nominal", "scale": {"domain": ["Model P14","Mak+ (2017)","Data P14","This work"], "range": ["#ff3333","#ffb733","#ff0000","#000000"]},
    "legend": {"title": null, "encode": {"symbols": {"update": {"shape": {"signal": "(datum.value === 'Model P14' || datum.value === 'Mak+ (2017)') ? 'M-0.86,-0.85M2.34,0.85M-0.86,0L2.34,0' : (datum.value === 'Data P14' ? 'M-0.86,-0.85M2.34,0.85M0.74,-0.85L0.74,0.85M0.125,-0.85L1.355,-0.85M0.125,0.85L1.355,0.85M0.44,0A0.3,0.3 0 1,0 1.04,0A0.3,0.3 0 1,0 0.44,0Z' : 'M-0.86,-0.85M2.34,0.85M0.74,-0.85L0.74,0.85M0.125,-0.85L1.355,-0.85M0.125,0.85L1.355,0.85')"}, "stroke": {"signal": "datum.value === 'Model P14' ? '#ff3333' : datum.value === 'Mak+ (2017)' ? '#ffb733' : datum.value === 'Data P14' ? '#ff0000' : '#000000'"}, "fill": {"signal": "datum.value === 'Data P14' ? '#ff0000' : 'transparent'"}, "strokeWidth": {"value": 3}, "opacity": {"value": 1}}}}}}
  },
  "layer": [
   {"data": {"name": "curves"}, "transform": [{"filter": "datum.panel === '353x353'"}], "mark": {"type": "line", "clip": true, "strokeWidth": 3, "interpolate": "monotone"}},
   {"data": {"name": "p14"}, "transform": [{"filter": "datum.panel === '353x353'"}], "mark": {"type": "errorbar", "ticks": {"size": 16, "thickness": 2}, "rule": {"strokeWidth": 3}}, "encoding": {"yError": {"field": "err"}}},
   {"data": {"name": "p14"}, "transform": [{"filter": "datum.panel === '353x353'"}], "mark": {"type": "point", "filled": true, "size": 55, "opacity": 1}},
   {"data": {"name": "work"}, "transform": [{"filter": "datum.panel === '353x353'"}], "mark": {"type": "errorbar", "ticks": {"size": 16, "thickness": 2}, "rule": {"strokeWidth": 3}}, "encoding": {"yError": {"field": "err"}}}
  ]
 },
 {
  "title": {"text": "353x545", "dy": 4}, "width": 513, "height": 357,
  "encoding": {
   "x": {"field": "ell", "type": "quantitative", "scale": {"domain": [-18, 2000], "nice": false, "zero": false}, "axis": {"values": [0,500,1000,1500,2000], "format": "d", "title": null}},
   "y": {"field": "v", "type": "quantitative", "scale": {"domain": [420000, 5510000], "nice": false, "zero": false}, "axis": {"values": [1000000,2000000,3000000,4000000,5000000], "format": "d", "title": null}},
   "color": {"field": "series", "type": "nominal", "scale": {"domain": ["Mak+ (2017)","Data P14","This work"], "range": ["#ffb733","#ff0000","#000000"]},
    "legend": {"title": null, "encode": {"symbols": {"update": {"shape": {"signal": "(datum.value === 'Model P14' || datum.value === 'Mak+ (2017)') ? 'M-0.86,-0.85M2.34,0.85M-0.86,0L2.34,0' : (datum.value === 'Data P14' ? 'M-0.86,-0.85M2.34,0.85M0.74,-0.85L0.74,0.85M0.125,-0.85L1.355,-0.85M0.125,0.85L1.355,0.85M0.44,0A0.3,0.3 0 1,0 1.04,0A0.3,0.3 0 1,0 0.44,0Z' : 'M-0.86,-0.85M2.34,0.85M0.74,-0.85L0.74,0.85M0.125,-0.85L1.355,-0.85M0.125,0.85L1.355,0.85')"}, "stroke": {"signal": "datum.value === 'Model P14' ? '#ff3333' : datum.value === 'Mak+ (2017)' ? '#ffb733' : datum.value === 'Data P14' ? '#ff0000' : '#000000'"}, "fill": {"signal": "datum.value === 'Data P14' ? '#ff0000' : 'transparent'"}, "strokeWidth": {"value": 3}, "opacity": {"value": 1}}}}}}
  },
  "layer": [
   {"data": {"name": "curves"}, "transform": [{"filter": "datum.panel === '353x545'"}], "mark": {"type": "line", "clip": true, "strokeWidth": 3, "interpolate": "monotone"}},
   {"data": {"name": "p14"}, "transform": [{"filter": "datum.panel === '353x545'"}], "mark": {"type": "errorbar", "ticks": {"size": 16, "thickness": 2}, "rule": {"strokeWidth": 3}}, "encoding": {"yError": {"field": "err"}}},
   {"data": {"name": "p14"}, "transform": [{"filter": "datum.panel === '353x545'"}], "mark": {"type": "point", "filled": true, "size": 55, "opacity": 1}},
   {"data": {"name": "work"}, "transform": [{"filter": "datum.panel === '353x545'"}], "mark": {"type": "errorbar", "ticks": {"size": 16, "thickness": 2}, "rule": {"strokeWidth": 3}}, "encoding": {"yError": {"field": "err"}}}
  ]
 },
 {
  "title": {"text": "353x857", "dy": 29}, "width": 513, "height": 357,
  "encoding": {
   "x": {"field": "ell", "type": "quantitative", "scale": {"domain": [-18, 2000], "nice": false, "zero": false}, "axis": {"values": [0,500,1000,1500,2000], "format": "d", "title": null}},
   "y": {"field": "v", "type": "quantitative", "scale": {"domain": [795000, 10070000], "nice": false, "zero": false}, "axis": {"values": [2000000,4000000,6000000,8000000,10000000], "labelExpr": "format(datum.value/10000000, '.1f')", "title": "1e7", "titleAngle": 0, "titleAlign": "left", "titleBaseline": "alphabetic", "titleX": 0, "titleY": -7}},
   "color": {"field": "series", "type": "nominal", "scale": {"domain": ["Mak+ (2017)","Data P14","This work"], "range": ["#ffb733","#ff0000","#000000"]},
    "legend": {"title": null, "encode": {"symbols": {"update": {"shape": {"signal": "(datum.value === 'Model P14' || datum.value === 'Mak+ (2017)') ? 'M-0.86,-0.85M2.34,0.85M-0.86,0L2.34,0' : (datum.value === 'Data P14' ? 'M-0.86,-0.85M2.34,0.85M0.74,-0.85L0.74,0.85M0.125,-0.85L1.355,-0.85M0.125,0.85L1.355,0.85M0.44,0A0.3,0.3 0 1,0 1.04,0A0.3,0.3 0 1,0 0.44,0Z' : 'M-0.86,-0.85M2.34,0.85M0.74,-0.85L0.74,0.85M0.125,-0.85L1.355,-0.85M0.125,0.85L1.355,0.85')"}, "stroke": {"signal": "datum.value === 'Model P14' ? '#ff3333' : datum.value === 'Mak+ (2017)' ? '#ffb733' : datum.value === 'Data P14' ? '#ff0000' : '#000000'"}, "fill": {"signal": "datum.value === 'Data P14' ? '#ff0000' : 'transparent'"}, "strokeWidth": {"value": 3}, "opacity": {"value": 1}}}}}}
  },
  "layer": [
   {"data": {"name": "curves"}, "transform": [{"filter": "datum.panel === '353x857'"}], "mark": {"type": "line", "clip": true, "strokeWidth": 3, "interpolate": "monotone"}},
   {"data": {"name": "p14"}, "transform": [{"filter": "datum.panel === '353x857'"}], "mark": {"type": "errorbar", "ticks": {"size": 16, "thickness": 2}, "rule": {"strokeWidth": 3}}, "encoding": {"yError": {"field": "err"}}},
   {"data": {"name": "p14"}, "transform": [{"filter": "datum.panel === '353x857'"}], "mark": {"type": "point", "filled": true, "size": 55, "opacity": 1}},
   {"data": {"name": "work"}, "transform": [{"filter": "datum.panel === '353x857'"}], "mark": {"type": "errorbar", "ticks": {"size": 16, "thickness": 2}, "rule": {"strokeWidth": 3}}, "encoding": {"yError": {"field": "err"}}}
  ]
 },
 {"width": 513, "height": 357, "data": {"values": [{"a": 1}]}, "mark": {"type": "point", "opacity": 0}, "view": {"stroke": null}},
 {
  "title": {"text": "545x545", "dy": 29}, "width": 513, "height": 357,
  "encoding": {
   "x": {"field": "ell", "type": "quantitative", "scale": {"domain": [-18, 2000], "nice": false, "zero": false}, "axis": {"values": [0,500,1000,1500,2000], "format": "d", "title": null}},
   "y": {"field": "v", "type": "quantitative", "scale": {"domain": [1310000, 16030000], "nice": false, "zero": false}, "axis": {"values": [2000000,4000000,6000000,8000000,10000000,12000000,14000000,16000000], "labelExpr": "format(datum.value/10000000, '.1f')", "title": "1e7", "titleAngle": 0, "titleAlign": "left", "titleBaseline": "alphabetic", "titleX": 0, "titleY": -7}},
   "color": {"field": "series", "type": "nominal", "scale": {"domain": ["Model P14","Mak+ (2017)","Data P14","This work"], "range": ["#ff3333","#ffb733","#ff0000","#000000"]},
    "legend": {"title": null, "encode": {"symbols": {"update": {"shape": {"signal": "(datum.value === 'Model P14' || datum.value === 'Mak+ (2017)') ? 'M-0.86,-0.85M2.34,0.85M-0.86,0L2.34,0' : (datum.value === 'Data P14' ? 'M-0.86,-0.85M2.34,0.85M0.74,-0.85L0.74,0.85M0.125,-0.85L1.355,-0.85M0.125,0.85L1.355,0.85M0.44,0A0.3,0.3 0 1,0 1.04,0A0.3,0.3 0 1,0 0.44,0Z' : 'M-0.86,-0.85M2.34,0.85M0.74,-0.85L0.74,0.85M0.125,-0.85L1.355,-0.85M0.125,0.85L1.355,0.85')"}, "stroke": {"signal": "datum.value === 'Model P14' ? '#ff3333' : datum.value === 'Mak+ (2017)' ? '#ffb733' : datum.value === 'Data P14' ? '#ff0000' : '#000000'"}, "fill": {"signal": "datum.value === 'Data P14' ? '#ff0000' : 'transparent'"}, "strokeWidth": {"value": 3}, "opacity": {"value": 1}}}}}}
  },
  "layer": [
   {"data": {"name": "curves"}, "transform": [{"filter": "datum.panel === '545x545'"}], "mark": {"type": "line", "clip": true, "strokeWidth": 3, "interpolate": "monotone"}},
   {"data": {"name": "p14"}, "transform": [{"filter": "datum.panel === '545x545'"}], "mark": {"type": "errorbar", "ticks": {"size": 16, "thickness": 2}, "rule": {"strokeWidth": 3}}, "encoding": {"yError": {"field": "err"}}},
   {"data": {"name": "p14"}, "transform": [{"filter": "datum.panel === '545x545'"}], "mark": {"type": "point", "filled": true, "size": 55, "opacity": 1}},
   {"data": {"name": "work"}, "transform": [{"filter": "datum.panel === '545x545'"}], "mark": {"type": "errorbar", "ticks": {"size": 16, "thickness": 2}, "rule": {"strokeWidth": 3}}, "encoding": {"yError": {"field": "err"}}}
  ]
 },
 {
  "title": {"text": "545x857", "dy": 29}, "width": 513, "height": 357,
  "encoding": {
   "x": {"field": "ell", "type": "quantitative", "scale": {"domain": [-18, 2000], "nice": false, "zero": false}, "axis": {"values": [0,500,1000,1500,2000], "format": "d", "title": null}},
   "y": {"field": "v", "type": "quantitative", "scale": {"domain": [2800000, 30500000], "nice": false, "zero": false}, "axis": {"values": [5000000,10000000,15000000,20000000,25000000,30000000], "labelExpr": "format(datum.value/10000000, '.1f')", "title": "1e7", "titleAngle": 0, "titleAlign": "left", "titleBaseline": "alphabetic", "titleX": 0, "titleY": -7}},
   "color": {"field": "series", "type": "nominal", "scale": {"domain": ["Mak+ (2017)","Data P14","This work"], "range": ["#ffb733","#ff0000","#000000"]},
    "legend": {"title": null, "encode": {"symbols": {"update": {"shape": {"signal": "(datum.value === 'Model P14' || datum.value === 'Mak+ (2017)') ? 'M-0.86,-0.85M2.34,0.85M-0.86,0L2.34,0' : (datum.value === 'Data P14' ? 'M-0.86,-0.85M2.34,0.85M0.74,-0.85L0.74,0.85M0.125,-0.85L1.355,-0.85M0.125,0.85L1.355,0.85M0.44,0A0.3,0.3 0 1,0 1.04,0A0.3,0.3 0 1,0 0.44,0Z' : 'M-0.86,-0.85M2.34,0.85M0.74,-0.85L0.74,0.85M0.125,-0.85L1.355,-0.85M0.125,0.85L1.355,0.85')"}, "stroke": {"signal": "datum.value === 'Model P14' ? '#ff3333' : datum.value === 'Mak+ (2017)' ? '#ffb733' : datum.value === 'Data P14' ? '#ff0000' : '#000000'"}, "fill": {"signal": "datum.value === 'Data P14' ? '#ff0000' : 'transparent'"}, "strokeWidth": {"value": 3}, "opacity": {"value": 1}}}}}}
  },
  "layer": [
   {"data": {"name": "curves"}, "transform": [{"filter": "datum.panel === '545x857'"}], "mark": {"type": "line", "clip": true, "strokeWidth": 3, "interpolate": "monotone"}},
   {"data": {"name": "p14"}, "transform": [{"filter": "datum.panel === '545x857'"}], "mark": {"type": "errorbar", "ticks": {"size": 16, "thickness": 2}, "rule": {"strokeWidth": 3}}, "encoding": {"yError": {"field": "err"}}},
   {"data": {"name": "p14"}, "transform": [{"filter": "datum.panel === '545x857'"}], "mark": {"type": "point", "filled": true, "size": 55, "opacity": 1}},
   {"data": {"name": "work"}, "transform": [{"filter": "datum.panel === '545x857'"}], "mark": {"type": "errorbar", "ticks": {"size": 16, "thickness": 2}, "rule": {"strokeWidth": 3}}, "encoding": {"yError": {"field": "err"}}}
  ]
 },
 {"width": 513, "height": 357, "data": {"values": [{"a": 1}]}, "mark": {"type": "point", "opacity": 0}, "view": {"stroke": null}},
 {"width": 513, "height": 357, "data": {"values": [{"a": 1}]}, "mark": {"type": "point", "opacity": 0}, "view": {"stroke": null}},
 {
  "title": {"text": "857x857", "dy": 29}, "width": 513, "height": 357,
  "encoding": {
   "x": {"field": "ell", "type": "quantitative", "scale": {"domain": [-18, 2000], "nice": false, "zero": false}, "axis": {"values": [0,500,1000,1500,2000], "format": "d", "title": null}},
   "y": {"field": "v", "type": "quantitative", "scale": {"domain": [7150000, 64700000], "nice": false, "zero": false}, "axis": {"values": [10000000,20000000,30000000,40000000,50000000,60000000], "labelExpr": "format(datum.value/10000000, 'd')", "title": "1e7", "titleAngle": 0, "titleAlign": "left", "titleBaseline": "alphabetic", "titleX": 0, "titleY": -7}},
   "color": {"field": "series", "type": "nominal", "scale": {"domain": ["Model P14","Mak+ (2017)","Data P14","This work"], "range": ["#ff3333","#ffb733","#ff0000","#000000"]},
    "legend": {"title": null, "encode": {"symbols": {"update": {"shape": {"signal": "(datum.value === 'Model P14' || datum.value === 'Mak+ (2017)') ? 'M-0.86,-0.85M2.34,0.85M-0.86,0L2.34,0' : (datum.value === 'Data P14' ? 'M-0.86,-0.85M2.34,0.85M0.74,-0.85L0.74,0.85M0.125,-0.85L1.355,-0.85M0.125,0.85L1.355,0.85M0.44,0A0.3,0.3 0 1,0 1.04,0A0.3,0.3 0 1,0 0.44,0Z' : 'M-0.86,-0.85M2.34,0.85M0.74,-0.85L0.74,0.85M0.125,-0.85L1.355,-0.85M0.125,0.85L1.355,0.85')"}, "stroke": {"signal": "datum.value === 'Model P14' ? '#ff3333' : datum.value === 'Mak+ (2017)' ? '#ffb733' : datum.value === 'Data P14' ? '#ff0000' : '#000000'"}, "fill": {"signal": "datum.value === 'Data P14' ? '#ff0000' : 'transparent'"}, "strokeWidth": {"value": 3}, "opacity": {"value": 1}}}}}}
  },
  "layer": [
   {"data": {"name": "curves"}, "transform": [{"filter": "datum.panel === '857x857'"}], "mark": {"type": "line", "clip": true, "strokeWidth": 3, "interpolate": "monotone"}},
   {"data": {"name": "p14"}, "transform": [{"filter": "datum.panel === '857x857'"}], "mark": {"type": "errorbar", "ticks": {"size": 16, "thickness": 2}, "rule": {"strokeWidth": 3}}, "encoding": {"yError": {"field": "err"}}},
   {"data": {"name": "p14"}, "transform": [{"filter": "datum.panel === '857x857'"}], "mark": {"type": "point", "filled": true, "size": 55, "opacity": 1}},
   {"data": {"name": "work"}, "transform": [{"filter": "datum.panel === '857x857'"}], "mark": {"type": "errorbar", "ticks": {"size": 16, "thickness": 2}, "rule": {"strokeWidth": 3}}, "encoding": {"yError": {"field": "err"}}}
  ]
 }
]
}
